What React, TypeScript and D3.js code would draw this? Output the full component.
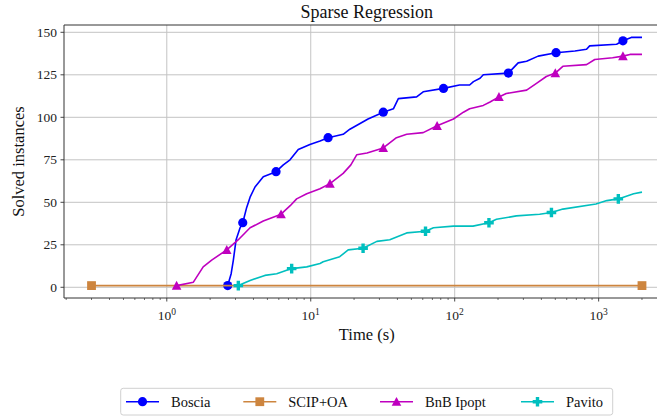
import React from "react";
import * as d3 from "d3";

// Solved instances over time (s), per solver
const bosciaTime = [2.65, 2.8, 2.9, 3.03, 3.23, 3.37, 3.59, 3.79, 4.1, 4.68, 5.74, 6.45, 7.18, 8.19, 9.87, 11.6, 13.2, 16.8, 18.7, 23.8, 25.0, 31.9, 37.5, 40.6, 54.4, 60.4, 83.6, 108, 127, 135, 150, 158, 236, 276, 316, 380, 506, 684, 824, 866, 1333, 1475, 1685, 2000];
const bosciaSolved = [1, 8, 16, 28, 35, 38, 47, 53, 59, 65, 68, 72, 75, 81, 84, 86, 88, 90, 93, 98, 99, 103, 105, 111, 112, 115, 117, 119, 119, 121, 123, 125, 126, 132, 133, 136, 138, 139, 140, 142, 143, 145, 147, 147];
const bosciaMarks = [0, 5, 10, 16, 21, 26, 32, 36, 41];

const scipTime = [0.3, 2000];
const scipSolved = [1, 1];
const scipMarks = [0, 1];

const bnbTime = [1.17, 1.53, 1.79, 2.05, 2.61, 3.14, 3.79, 4.68, 6.22, 7.2, 7.98, 9.38, 11.6, 13.6, 16.8, 19.0, 20.9, 24.6, 31.9, 39.4, 46.4, 60.4, 75.5, 98, 115, 127, 158, 176, 203, 228, 316, 370, 433, 500, 564, 824, 940, 1250, 1475, 1650, 2000];
const bnbSolved = [1, 3, 12, 16, 22, 28, 35, 39, 43, 48, 52, 55, 58, 61, 67, 72, 78, 79, 82, 88, 90, 91, 95, 99, 103, 105, 107, 109, 112, 114, 116, 120, 124, 126, 130, 131, 134, 135, 136, 137, 137];
const bnbMarks = [0, 4, 8, 13, 18, 22, 28, 33, 38];

const pavitoTime = [3.14, 3.79, 4.8, 5.8, 7.37, 9.38, 11.6, 12.2, 15.9, 18.2, 23.1, 28.8, 35.4, 46.4, 62.7, 71.2, 98, 134, 173, 195, 268, 389, 470, 564, 958, 1140, 1370, 1750, 2000];
const pavitoSolved = [1, 4, 7, 8, 11, 12, 14, 15, 18, 22, 23, 27, 28, 32, 33, 35, 36, 36, 38, 40, 42, 43, 44, 46, 49, 51, 52, 55, 56];
const pavitoMarks = [0, 4, 10, 14, 18, 22, 26];

const seriesNames = ["Boscia", "SCIP+OA", "BnB Ipopt", "Pavito"];
const seriesColors = ["#0000ff", "#cd853f", "#bf00bf", "#00bfbf"];
const seriesShapes = ["circle", "square", "triangle", "plus"];

const yTicks = [0, 25, 50, 75, 100, 125, 150];
const xMajorExp = [0, 1, 2, 3];

const W = 657;
const H = 417;
const left = 64;
const right = 669.5;
const top = 25;
const bottom = 298;
const FONT = "'Liberation Serif', 'Times New Roman', serif";

type Series = { name: string; time: number[]; solved: number[]; marks: number[]; color: string; shape: string };

const series: Series[] = [
  { name: seriesNames[0], time: bosciaTime, solved: bosciaSolved, marks: bosciaMarks, color: seriesColors[0], shape: seriesShapes[0] },
  { name: seriesNames[1], time: scipTime, solved: scipSolved, marks: scipMarks, color: seriesColors[1], shape: seriesShapes[1] },
  { name: seriesNames[2], time: bnbTime, solved: bnbSolved, marks: bnbMarks, color: seriesColors[2], shape: seriesShapes[2] },
  { name: seriesNames[3], time: pavitoTime, solved: pavitoSolved, marks: pavitoMarks, color: seriesColors[3], shape: seriesShapes[3] },
];

// axis limits with 5% padding around the data (log padding on x)
const allT = series.flatMap((s) => s.time);
const allV = series.flatMap((s) => s.solved);
const lt0 = Math.log10(d3.min(allT)!);
const lt1 = Math.log10(d3.max(allT)!);
const padT = (lt1 - lt0) * 0.05;
const v0 = d3.min(allV)!;
const v1 = d3.max(allV)!;
const padV = (v1 - v0) * 0.05;

const x = d3.scaleLog().domain([10 ** (lt0 - padT), 10 ** (lt1 + padT)]).range([left, right]);
const y = d3.scaleLinear().domain([v0 - padV, v1 + padV]).range([bottom, top]);

const minorTicks: number[] = [];
for (let e = -1; e <= 3; e++) {
  for (let m = 2; m <= 9; m++) {
    const v = m * 10 ** e;
    if (v >= x.domain()[0] && v <= x.domain()[1]) minorTicks.push(v);
  }
}

function Marker({ shape, cx, cy, color }: { shape: string; cx: number; cy: number; color: string }) {
  if (shape === "circle") return <circle cx={cx} cy={cy} r={4.6} fill={color} />;
  if (shape === "square") return <rect x={cx - 4.4} y={cy - 4.4} width={8.8} height={8.8} fill={color} />;
  if (shape === "triangle") {
    const s = 4.8;
    return <path d={`M${cx},${cy - s}L${cx + s},${cy + s * 0.85}L${cx - s},${cy + s * 0.85}Z`} fill={color} />;
  }
  const a = 4.8;
  const b = 1.7;
  const d = `M${cx - b},${cy - a}H${cx + b}V${cy - b}H${cx + a}V${cy + b}H${cx + b}V${cy + a}H${cx - b}V${cy + b}H${cx - a}V${cy - b}H${cx - b}Z`;
  return <path d={d} fill={color} />;
}

const line = d3
  .line<[number, number]>()
  .x((p) => x(p[0]))
  .y((p) => y(p[1]));

const legendX = [126, 243.3, 380, 521];

export default function App() {
  const gridColor = "#c4c4c4";
  const spine = "#333333";
  return (
    <svg width={W} height={H} style={{ position: "absolute", left: 0, top: 0, background: "#fff" }} fontFamily={FONT}>
      <rect x={0} y={0} width={W} height={H} fill="#fff" />
      {/* grid */}
      {xMajorExp.map((e) => (
        <line key={"gx" + e} x1={x(10 ** e)} x2={x(10 ** e)} y1={top} y2={bottom} stroke={gridColor} strokeWidth={1} />
      ))}
      {yTicks.map((t) => (
        <line key={"gy" + t} x1={left} x2={right} y1={y(t)} y2={y(t)} stroke={gridColor} strokeWidth={1} />
      ))}

      {/* series */}
      {series.map((s) => {
        const pts = s.time.map((t, i) => [t, s.solved[i]] as [number, number]);
        return (
          <g key={s.name}>
            <path d={line(pts)!} fill="none" stroke={s.color} strokeWidth={1.6} strokeLinejoin="round" />
            {s.marks.map((i) => (
              <Marker key={i} shape={s.shape} cx={x(s.time[i])} cy={y(s.solved[i])} color={s.color} />
            ))}
          </g>
        );
      })}

      {/* spines */}
      <line x1={left} x2={left} y1={top} y2={bottom} stroke={spine} strokeWidth={1} />
      <line x1={left} x2={W} y1={bottom} y2={bottom} stroke={spine} strokeWidth={1} />
      <line x1={left} x2={W} y1={top} y2={top} stroke={spine} strokeWidth={1} />

      {/* y axis */}
      {yTicks.map((t) => (
        <g key={"yt" + t}>
          <line x1={left - 3.5} x2={left} y1={y(t)} y2={y(t)} stroke={spine} strokeWidth={0.9} />
          <text x={left - 7} y={y(t)} dy="0.33em" textAnchor="end" fontSize={13.5} fill="#222">
            {t}
          </text>
        </g>
      ))}

      {/* x axis */}
      {minorTicks.map((t) => (
        <line key={"mt" + t} x1={x(t)} x2={x(t)} y1={bottom} y2={bottom + 2} stroke={spine} strokeWidth={0.7} />
      ))}
      {xMajorExp.map((e) => (
        <g key={"xt" + e}>
          <line x1={x(10 ** e)} x2={x(10 ** e)} y1={bottom} y2={bottom + 3.5} stroke={spine} strokeWidth={0.9} />
          <text x={x(10 ** e)} y={319.5} textAnchor="middle" fontSize={13.5} fill="#222">
            10
            <tspan dy={-5} fontSize={9.5}>
              {e}
            </tspan>
          </text>
        </g>
      ))}

      {/* labels */}
      <text x={(left + right) / 2} y={17.5} textAnchor="middle" fontSize={18} fill="#111">
        Sparse Regression
      </text>
      <text x={(left + right) / 2} y={340} textAnchor="middle" fontSize={16.5} fill="#111">
        Time (s)
      </text>
      <text transform={`translate(24,${(top + bottom) / 2}) rotate(-90)`} textAnchor="middle" fontSize={16.5} fill="#111">
        Solved instances
      </text>

      {/* legend */}
      <rect x={120.7} y={388.3} width={492} height={26.7} rx={2.5} fill="#fff" stroke="#d0d0d0" strokeWidth={1} />
      {series.map((s, i) => (
        <g key={"lg" + s.name}>
          <line x1={legendX[i]} x2={legendX[i] + 33} y1={401.7} y2={401.7} stroke={s.color} strokeWidth={1.6} />
          <Marker shape={s.shape} cx={legendX[i] + 16.5} cy={401.7} color={s.color} />
          <text x={legendX[i] + 45} y={406.5} fontSize={14.5} fill="#111">
            {s.name}
          </text>
        </g>
      ))}
    </svg>
  );
}
